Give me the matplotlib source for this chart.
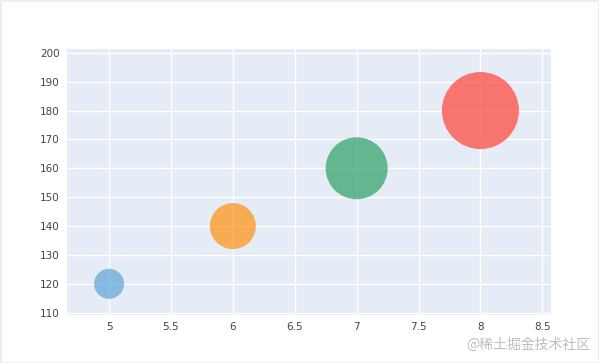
import matplotlib
matplotlib.use("Agg")
import matplotlib.pyplot as plt
from matplotlib.patches import Rectangle

x_vals = [5, 6, 7, 8]
y_vals = [120, 140, 160, 180]
diam_px = [30, 46, 62, 77]
colors = ['rgb(93, 164, 214)', 'rgb(255, 144, 14)', 'rgb(44, 160, 101)', 'rgb(255, 65, 54)']
x_ticks = [5, 5.5, 6, 6.5, 7, 7.5, 8, 8.5]
x_tick_labels = ['5', '5.5', '6', '6.5', '7', '7.5', '8', '8.5']
y_ticks = [110, 120, 130, 140, 150, 160, 170, 180, 190, 200]
watermark = '@稀土掘金技术社区'

def to_rgb(s):
    parts = s[s.index('(') + 1:s.index(')')].split(',')
    return tuple(int(p) / 255 for p in parts)

dpi = 100
fig = plt.figure(figsize=(5.99, 3.63), dpi=dpi)
ax = fig.add_axes([67 / 599, 1 - 315 / 363, (551 - 67) / 599, (315 - 49) / 363])
ax.set_facecolor('#E5ECF6')
for s in ax.spines.values():
    s.set_visible(False)

ax.set_xlim(4.66, 8.57)
ax.set_ylim(109.2, 201.3)
ax.set_xticks(x_ticks)
ax.set_xticklabels(x_tick_labels)
ax.set_yticks(y_ticks)
ax.grid(True, color='white', linewidth=1)
ax.set_axisbelow(True)
ax.tick_params(length=0, labelsize=7.5, labelcolor='#444444', pad=5)
for lab in ax.get_xticklabels() + ax.get_yticklabels():
    lab.set_fontfamily('DejaVu Sans')

sizes = [(d * 72 / dpi) ** 2 for d in diam_px]
ax.scatter(x_vals, y_vals, s=sizes, c=[to_rgb(c) for c in colors], alpha=0.7,
           edgecolors='none', zorder=3)

fig.text(590 / 599, 1 - 345 / 363, watermark, ha='right', va='center',
         fontsize=10, color='#bdbdbd', family=['Noto Sans CJK SC', 'DejaVu Sans'])

# light frame at the image edges
fig.patches.append(Rectangle((0, 0), 1, 1, transform=fig.transFigure, fill=False,
                             edgecolor='#eeeeee', linewidth=2))

fig.savefig('out.png', dpi=dpi)
